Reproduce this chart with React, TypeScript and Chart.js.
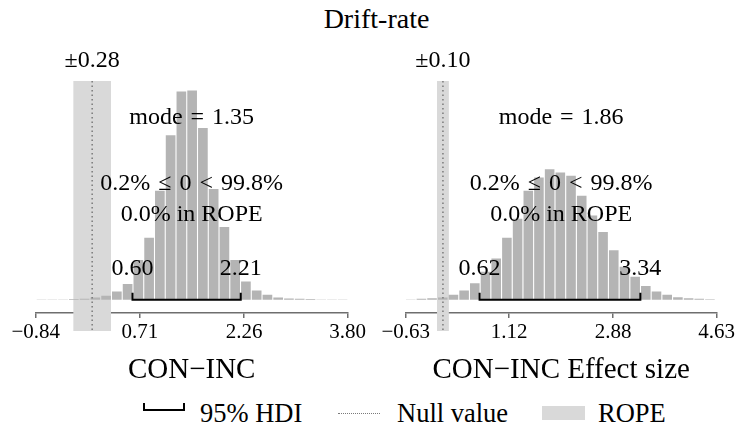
import { useEffect, useRef } from 'react';
import { Chart, registerables } from 'chart.js';

Chart.register(...registerables);

const SERIF = '"Liberation Serif", "Times New Roman", serif';
const BAR_GREY = '#b4b4b4';
const ROPE_GREY = '#d9d9d9';
const NULL_GREY = '#7a7a7a';
const AXIS_GREY = '#6e6e6e';
const MID = '\u2004';

// CON−INC: posterior of the raw drift-rate difference
const diffBinCenters = [
  -0.753, -0.593, -0.433, -0.273, -0.113, 0.047, 0.207, 0.367, 0.527, 0.687,
  0.847, 1.007, 1.167, 1.327, 1.487, 1.647, 1.807, 1.967, 2.127, 2.287,
  2.447, 2.607, 2.767, 2.927, 3.087, 3.247, 3.407, 3.567, 3.727,
];
const diffCounts = [
  1, 1, 1, 2, 3, 7, 12, 25, 48, 120,
  188, 330, 498, 630, 633, 520, 335, 220, 120, 55,
  28, 15, 7, 4, 3, 2, 1, 1, 1,
];
const diffTicks = [-0.84, 0.71, 2.26, 3.8];
const diffHdi = [0.6, 2.21];
const diffRope = 0.28;
const diffMode = 1.35;
const diffBelowZero = 0.2;
const diffAboveZero = 99.8;
const diffInRope = 0.0;

// CON−INC effect size posterior
const effBinCenters = [
  -0.545, -0.364, -0.184, -0.003, 0.178, 0.358, 0.539, 0.72, 0.901, 1.082,
  1.263, 1.444, 1.624, 1.805, 1.986, 2.167, 2.348, 2.528, 2.709, 2.89,
  3.071, 3.252, 3.432, 3.613, 3.794, 3.975, 4.156, 4.336, 4.517,
];
const effCounts = [
  1, 3, 5, 7, 15, 28, 50, 85, 125, 188,
  245, 330, 370, 395, 385, 375, 315, 255, 205, 150,
  100, 70, 42, 25, 15, 8, 5, 3, 1.5,
];
const effTicks = [-0.63, 1.12, 2.88, 4.63];
const effHdi = [0.62, 3.34];
const effRope = 0.1;
const effMode = 1.86;
const effBelowZero = 0.2;
const effAboveZero = 99.8;
const effInRope = 0.0;

// shared count axis so both histograms sit on the same baseline
const COUNT_MIN = -40;
const COUNT_MAX = 662;

interface PanelSpec {
  label: string;
  centers: number[];
  counts: number[];
  ticks: number[];
  hdi: number[];
  rope: number;
  mode: number;
  below: number;
  above: number;
  inRope: number;
}

const fmt = (v: number) => (v < 0 ? '\u2212' + Math.abs(v).toFixed(2) : v.toFixed(2));

function overlayPlugin(p: PanelSpec) {
  return {
    id: 'posteriorOverlay',
    beforeDatasetsDraw(chart: any) {
      const { ctx, chartArea, scales } = chart;
      const x = scales.x;
      const x0 = x.getPixelForValue(-p.rope);
      const x1 = x.getPixelForValue(p.rope);
      ctx.save();
      ctx.fillStyle = ROPE_GREY;
      ctx.fillRect(x0, chartArea.top, x1 - x0, chartArea.bottom + 18 - chartArea.top);
      ctx.restore();
    },
    afterDatasetsDraw(chart: any) {
      const { ctx, chartArea, scales } = chart;
      const x = scales.x;
      const y = scales.y;
      const top = chartArea.top;
      const base = y.getPixelForValue(0);
      const cx = (chartArea.left + chartArea.right) / 2;
      const nx = x.getPixelForValue(0);

      ctx.save();
      // null value
      ctx.strokeStyle = NULL_GREY;
      ctx.lineWidth = 1.5;
      ctx.setLineDash([1.5, 3]);
      ctx.beginPath();
      ctx.moveTo(nx, top);
      ctx.lineTo(nx, chartArea.bottom + 18);
      ctx.stroke();
      ctx.setLineDash([]);

      // 95% HDI bracket
      const h0 = x.getPixelForValue(p.hdi[0]);
      const h1 = x.getPixelForValue(p.hdi[1]);
      ctx.strokeStyle = '#000';
      ctx.lineWidth = 2;
      ctx.beginPath();
      ctx.moveTo(h0, base - 7);
      ctx.lineTo(h0, base);
      ctx.lineTo(h1, base);
      ctx.lineTo(h1, base - 7);
      ctx.stroke();

      ctx.fillStyle = '#000';
      ctx.textAlign = 'center';
      ctx.textBaseline = 'middle';
      ctx.font = `24px ${SERIF}`;
      ctx.fillText('\u00b1' + p.rope.toFixed(2), nx, top - 20);
      ctx.fillText(`mode${MID}=${MID}${p.mode.toFixed(2)}`, cx, top + 36.5);
      ctx.fillText(
        `${p.below.toFixed(1)}%${MID}\u2264${MID}0${MID}<${MID}${p.above.toFixed(1)}%`,
        cx,
        top + 103,
      );
      ctx.fillText(`${p.inRope.toFixed(1)}% in ROPE`, cx, top + 134);
      ctx.fillText(p.hdi[0].toFixed(2), h0, top + 188);
      ctx.fillText(p.hdi[1].toFixed(2), h1, top + 188);
      ctx.restore();
    },
  };
}

function PosteriorPanel({
  panel,
  left,
  width,
  padLeft,
  padRight,
}: {
  panel: PanelSpec;
  left: number;
  width: number;
  padLeft: number;
  padRight: number;
}) {
  const ref = useRef<HTMLCanvasElement | null>(null);

  useEffect(() => {
    if (!ref.current) return;
    const chart = new Chart(ref.current, {
      type: 'bar',
      data: {
        datasets: [
          {
            data: panel.centers.map((c, i) => ({ x: c, y: panel.counts[i] })),
            backgroundColor: BAR_GREY,
            borderWidth: 0,
            barPercentage: 0.9,
            categoryPercentage: 1,
          },
        ],
      },
      options: {
        responsive: false,
        animation: false,
        events: [],
        layout: { padding: { top: 81, left: padLeft, right: padRight, bottom: 0 } },
        plugins: { legend: { display: false }, tooltip: { enabled: false } },
        scales: {
          x: {
            type: 'linear',
            min: panel.ticks[0],
            max: panel.ticks[panel.ticks.length - 1],
            offset: false,
            afterBuildTicks: (scale: any) => {
              scale.ticks = panel.ticks.map((value) => ({ value }));
            },
            ticks: {
              autoSkip: false,
              maxRotation: 0,
              minRotation: 0,
              padding: 2,
              color: '#000',
              font: { family: SERIF, size: 21, lineHeight: '24px' },
              callback: (v: any) => fmt(Number(v)),
            },
            grid: {
              offset: false,
              drawOnChartArea: false,
              drawTicks: true,
              tickLength: 5,
              color: AXIS_GREY,
              lineWidth: 1.5,
            },
            border: { display: true, color: AXIS_GREY, width: 1.5 },
            title: {
              display: true,
              text: panel.label,
              color: '#000',
              font: { family: SERIF, size: 29, lineHeight: '34px' },
              padding: { top: 7, bottom: 0 },
            },
          },
          y: { display: false, min: COUNT_MIN, max: COUNT_MAX },
        },
      } as any,
      plugins: [overlayPlugin(panel) as any],
    });
    return () => chart.destroy();
  }, [panel, padLeft, padRight]);

  return (
    <canvas
      ref={ref}
      width={width}
      height={387}
      style={{ position: 'absolute', left, top: 0, width, height: 387 }}
    />
  );
}

const diffPanel: PanelSpec = {
  label: 'CON\u2212INC',
  centers: diffBinCenters,
  counts: diffCounts,
  ticks: diffTicks,
  hdi: diffHdi,
  rope: diffRope,
  mode: diffMode,
  below: diffBelowZero,
  above: diffAboveZero,
  inRope: diffInRope,
};

const effPanel: PanelSpec = {
  label: 'CON\u2212INC Effect size',
  centers: effBinCenters,
  counts: effCounts,
  ticks: effTicks,
  hdi: effHdi,
  rope: effRope,
  mode: effMode,
  below: effBelowZero,
  above: effAboveZero,
  inRope: effInRope,
};

const legendText: React.CSSProperties = {
  position: 'absolute',
  top: 398,
  fontFamily: SERIF,
  fontSize: 26.5,
  lineHeight: '30px',
  color: '#000',
  whiteSpace: 'nowrap',
};

export default function App() {
  return (
    <div
      style={{
        position: 'absolute',
        left: 0,
        top: 0,
        width: 737,
        height: 427,
        background: '#fff',
        overflow: 'hidden',
      }}
    >
      <div
        style={{
          position: 'absolute',
          left: 8,
          top: 2.5,
          width: 737,
          textAlign: 'center',
          fontFamily: SERIF,
          fontSize: 28,
          lineHeight: '32px',
          color: '#000',
        }}
      >
        Drift-rate
      </div>
      <PosteriorPanel panel={diffPanel} left={0} width={368} padLeft={35.7} padRight={20.3} />
      <PosteriorPanel panel={effPanel} left={368} width={369} padLeft={37.7} padRight={18} />

      {/* legend */}
      <div
        style={{
          position: 'absolute',
          left: 143,
          top: 403,
          width: 42,
          height: 8,
          boxSizing: 'border-box',
          borderLeft: '2px solid #000',
          borderRight: '2px solid #000',
          borderBottom: '2px solid #000',
        }}
      />
      <div style={{ ...legendText, left: 200 }}>95% HDI</div>
      <div
        style={{
          position: 'absolute',
          left: 338,
          top: 413,
          width: 42,
          height: 0,
          borderTop: `1.5px dotted ${NULL_GREY}`,
        }}
      />
      <div style={{ ...legendText, left: 397 }}>Null value</div>
      <div
        style={{
          position: 'absolute',
          left: 542,
          top: 406,
          width: 43,
          height: 14,
          background: ROPE_GREY,
        }}
      />
      <div style={{ ...legendText, left: 598 }}>ROPE</div>
    </div>
  );
}
